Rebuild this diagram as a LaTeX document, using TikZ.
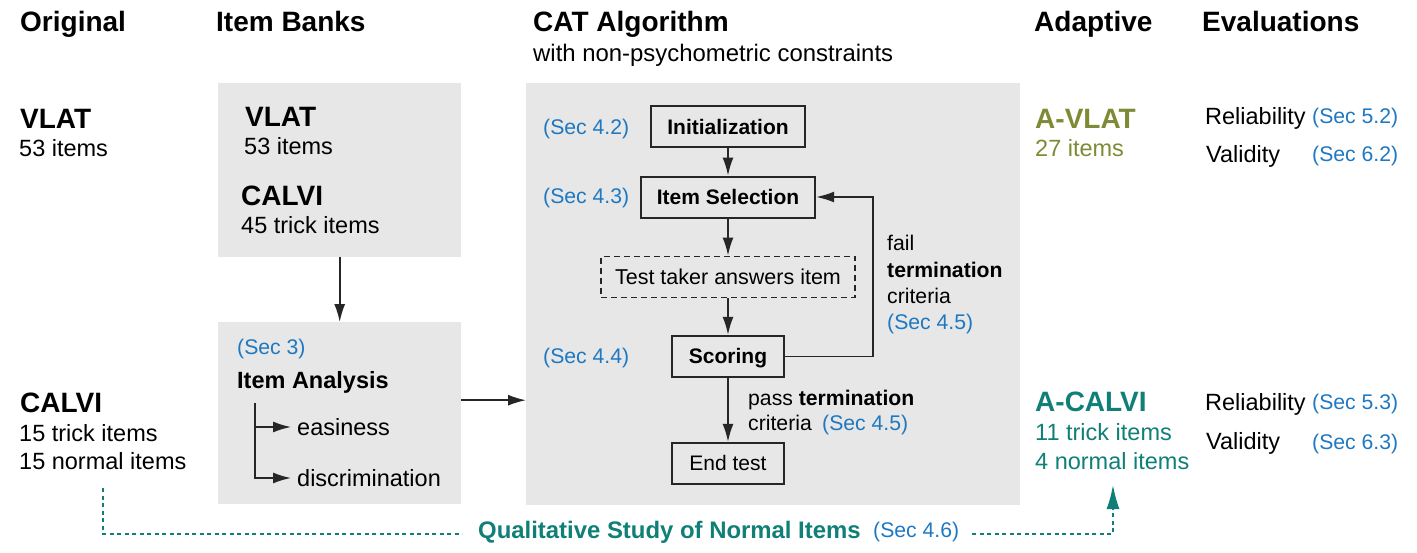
\documentclass[tikz,border=0pt]{standalone}
\usepackage{fontspec}
\setmainfont{Liberation Sans}
\usepackage{xcolor}
\usepackage{tikz}
\usetikzlibrary{shapes,arrows,arrows.meta,positioning,fit}
\definecolor{secblue}{HTML}{1F78C1}
\definecolor{olivec}{HTML}{7F8A35}
\definecolor{tealc}{HTML}{0F7F77}
\definecolor{panelgray}{HTML}{E6E7E6}
\tikzstyle{head} = [font=\fontsize{28}{32}\selectfont\bfseries, anchor=west, inner sep=0pt, text height=20pt, text depth=0pt]
\tikzstyle{txt} = [font=\fontsize{23.5}{28}\selectfont, anchor=west, inner sep=0pt, text height=16.8pt, text depth=0pt]
\tikzstyle{lbl} = [font=\fontsize{21.2}{25}\selectfont, anchor=west, inner sep=0pt, text height=15.2pt, text depth=0pt]
\tikzstyle{sec} = [lbl, text=secblue]
\tikzstyle{block} = [rectangle, draw=black!85, line width=2pt, font=\fontsize{21}{25}\selectfont\bfseries,
minimum height=41pt, inner xsep=16pt, text height=15pt, text depth=0pt]
\tikzstyle{dbox} = [block, font=\fontsize{21.5}{25}\selectfont, line width=1.7pt, dash pattern=on 6pt off 4pt, inner xsep=14pt]
\tikzstyle{panel} = [rectangle, fill=panelgray, inner sep=0pt, anchor=north west]
\tikzstyle{line} = [draw, black!85, line width=1.6pt, -{Latex[length=18pt,width=11pt]}]
\tikzstyle{dline} = [draw=tealc, line width=1.8pt, dash pattern=on 4pt off 3.5pt]
\tikzstyle{qual} = [font=\fontsize{23.9}{28}\selectfont\bfseries, text=tealc, anchor=west, inner sep=0pt, text height=17pt, text depth=0pt]

\begin{document}
\begin{tikzpicture}[x=1pt, y=-1pt, node distance=30pt]
   \useasboundingbox (0,0) rectangle (1417,552);
    % panels
   \node [panel, minimum width=243pt, minimum height=174pt] (bank) at (218,83) {};
   \node [panel, minimum width=243pt, minimum height=182pt] (ana) at (218,322) {};
   \node [panel, minimum width=494pt, minimum height=422pt] (cat) at (526,83) {};

    % column heads
   \node [head] (horig) at (20,21) {Original};
   \node [head] (hbank) at (216,21) {Item Banks};
   \node [head] (hcat) at (533,21) {CAT Algorithm};
   \node [txt, font=\fontsize{23.9}{28}\selectfont] (hsub) at (533,53) {with non-psychometric constraints};
   \node [head] (hadap) at (1034,21) {Adaptive};
   \node [head] (heval) at (1202,21) {Evaluations};

    % original tests
   \node [head] (ovlat) at (20,118) {VLAT};
   \node [txt] (ovlatn) at (19,148) {53 items};
   \node [head] (ocalvi) at (20,402) {CALVI};
   \node [txt] (ocalvit) at (19,433) {15 trick items};
   \node [txt] (ocalvin) at (19,461) {15 normal items};

    % item banks
   \node [head] (bvlat) at (245,116) {VLAT};
   \node [txt] (bvlatn) at (244,146) {53 items};
   \node [head] (bcalvi) at (241,195) {CALVI};
   \node [txt] (bcalvin) at (241,225) {45 trick items};

    % item analysis
   \node [sec] (sec3) at (237,347) {(Sec 3)};
   \node [txt, font=\fontsize{23.5}{28}\selectfont\bfseries] (itana) at (237,380) {Item Analysis};
   \coordinate (trunk) at (255,403);
   \node [txt] (easi) at (297,427) {easiness};
   \node [txt] (disc) at (297,478) {discrimination};

    % cat algorithm
   \node [block] (init) at (728,126.5) {Initialization};
   \node [block, below=27.5pt of init] (sel) {Item Selection};
   \node [dbox, below=37pt of sel] (ans) {Test taker answers item};
   \node [block, below=36.6pt of ans, minimum width=112pt] (score) {Scoring};
   \node [block, below=64pt of score, minimum width=112pt, font=\fontsize{21}{25}\selectfont] (endt) {End test};
   \node [sec] (sec42) at (543,127) {(Sec 4.2)};
   \node [sec] (sec43) at (543,196) {(Sec 4.3)};
   \node [sec] (sec44) at (543,356) {(Sec 4.4)};
   \coordinate (loop) at (873,277);
   \node [lbl] (fail) at (887,243) {fail};
   \node [lbl, font=\fontsize{21.2}{25}\selectfont\bfseries] (failt) at (887,269.5) {termination};
   \node [lbl] (failc) at (887,295.5) {criteria};
   \node [sec] (sec45a) at (887,322) {(Sec 4.5)};
   \node [lbl] (pass) at (748,397.5) {pass \textbf{termination}};
   \node [lbl] (passc) at (748,422.5) {criteria};
   \node [sec] (sec45b) at (822,422.5) {(Sec 4.5)};

    % adaptive tests
   \node [head, text=olivec] (avlat) at (1035,118) {A-VLAT};
   \node [txt, text=olivec] (avlatn) at (1035,148.5) {27 items};
   \node [head, text=tealc] (acalvi) at (1035,401) {A-CALVI};
   \node [txt, text=tealc] (acalvit) at (1035,432) {11 trick items};
   \node [txt, text=tealc] (acalvin) at (1035,461.5) {4 normal items};
   \coordinate (qend) at (1113,485);

    % evaluations
   \node [txt] (rel1) at (1205,116) {Reliability};
   \node [sec] (sec52) at (1312,116) {(Sec 5.2)};
   \node [txt] (val1) at (1206,154) {Validity};
   \node [sec] (sec62) at (1312,154) {(Sec 6.2)};
   \node [txt] (rel2) at (1205,402) {Reliability};
   \node [sec] (sec53) at (1312,402) {(Sec 5.3)};
   \node [txt] (val2) at (1206,441.5) {Validity};
   \node [sec] (sec63) at (1312,441.5) {(Sec 6.3)};

    % qualitative study
   \coordinate (qstart) at (103,488);
   \node [qual] (qstudy) at (478,530) {Qualitative Study of Normal Items};
   \node [sec] (sec46) at (873,530) {(Sec 4.6)};

    % edges
          \path [line] (bank.south) -- (bank.south |- ana.north);
          \path [line] ([yshift=13pt]ana.east) -- ([yshift=13pt]ana.east -| cat.west);
          \draw [line] (trunk) |- ([xshift=-6pt]easi.west);
          \draw [line] (trunk) |- ([xshift=-6pt]disc.west);
          \path [line] (init) -- (sel);
          \path [line] (sel) -- (ans);
          \path [line] (ans) -- (score);
          \path [line] (score) -- (endt);
          \draw [line] (score.east) -| (loop) |- (sel.east);
          \draw [dline] (qstart) |- ([xshift=-16pt,yshift=-4pt]qstudy.west);
          \draw [dline, -{Latex[length=24pt,width=13pt]}] ([xshift=13pt,yshift=-4pt]sec46.east) -| (qend);

  \end{tikzpicture}
\end{document}
